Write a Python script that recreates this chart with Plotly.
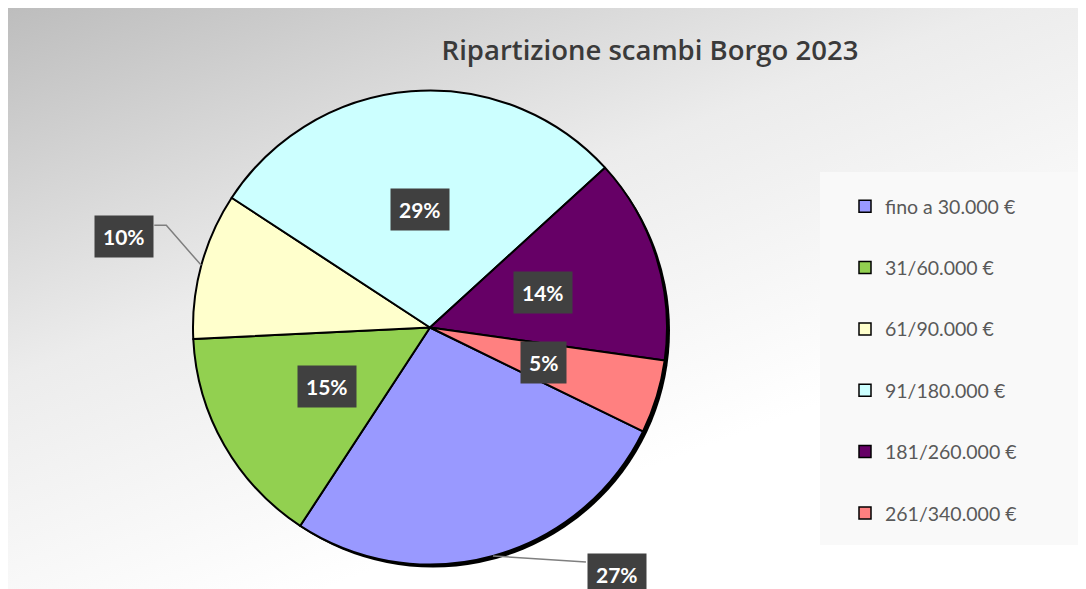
import math, base64
import plotly.graph_objects as go

categories = ["fino a 30.000 €", "31/60.000 €", "61/90.000 €", "91/180.000 €", "181/260.000 €", "261/340.000 €"]
values = [27, 15, 10, 29, 14, 5]
colors = ["#9999FF", "#92D050", "#FFFFCC", "#CCFFFF", "#660066", "#FF8080"]
title_text = "Ripartizione scambi Borgo 2023"

W, H = 1086, 589
OFF = 8  # page body margin; layout coordinates below are given in screen pixels
CX, CY, R = 430, 327.5, 237
ROT = 116  # degrees clockwise from 12 o'clock where the first slice starts
FONT = "Lato, Open Sans, sans-serif"

def px(x):
    return (x - OFF) / W

def py(y):
    return 1 - (y - OFF) / H

fig = go.Figure()

# gradient background image
svg = f'''<svg xmlns="http://www.w3.org/2000/svg" width="{W}" height="{H}">
<defs><linearGradient id="g" x1="0" y1="0" x2="0.65" y2="0.95">
<stop offset="0" stop-color="#bdbdbd"/><stop offset="0.45" stop-color="#ececec"/><stop offset="0.85" stop-color="#ffffff"/>
</linearGradient></defs><rect width="{W}" height="{H}" fill="url(#g)"/></svg>'''
src = "data:image/svg+xml;base64," + base64.b64encode(svg.encode()).decode()
fig.add_layout_image(source=src, xref="paper", yref="paper", x=0, y=1,
                     sizex=1, sizey=1, xanchor="left", yanchor="top",
                     sizing="stretch", layer="below")

# soft shadow behind the pie
fig.add_shape(type="circle", xref="paper", yref="paper",
              x0=px(CX - R + 3), x1=px(CX + R + 3), y0=py(CY + R + 3), y1=py(CY - R + 3),
              fillcolor="#000000", line=dict(width=0), layer="below")

fig.add_trace(go.Pie(
    labels=categories, values=values, sort=False, direction="clockwise", rotation=ROT,
    marker=dict(colors=colors, line=dict(color="#000000", width=2)),
    textinfo="none", hoverinfo="label+percent", showlegend=False,
    domain=dict(x=[px(CX - R), px(CX + R)], y=[py(CY + R), py(CY - R)]),
))

# legend via dummy traces so each entry gets its own vertical spacing
for i, (c, col) in enumerate(zip(categories, colors)):
    fig.add_trace(go.Scatter(x=[None], y=[None], mode="markers", name=c, legendgroup=f"g{i}",
                             marker=dict(symbol="square", size=12, color=col,
                                         line=dict(color="#000000", width=1.5))))

# data labels
total = sum(values)
cum = 0
outside_offsets = {2: (-77, -29), 0: (124, 19)}
for i, v in enumerate(values):
    mid = ROT + 360 * (cum + v / 2) / total
    cum += v
    a = math.radians(mid)
    label = f"{round(100 * v / total)}%"
    if i in outside_offsets:
        ex, ey = CX + R * math.sin(a), CY - R * math.cos(a)
        dx, dy = outside_offsets[i]
        lx, ly = ex + dx, ey + dy
        if dx < 0:
            path = (f"M {px(ex)} {py(ey)} L {px(lx + 42)} {py(ly - 11)} "
                    f"L {px(lx + 30)} {py(ly - 11)}")
        else:
            path = f"M {px(ex)} {py(ey)} L {px(lx - 31)} {py(ly - 13)}"
        fig.add_shape(type="path", xref="paper", yref="paper", path=path,
                      line=dict(color="#7f7f7f", width=1.5))
    else:
        rr = 0.5 * R
        lx, ly = CX + rr * math.sin(a), CY - rr * math.cos(a)
    fig.add_annotation(x=px(lx), y=py(ly), xref="paper", yref="paper", text=f"<b>{label}</b>",
                       xanchor="center", yanchor="middle",
                       showarrow=False, bgcolor="#404040", borderpad=8,
                       font=dict(family=FONT, size=21, color="#ffffff"))

# legend panel
fig.add_shape(type="rect", xref="paper", yref="paper", x0=px(820), x1=px(1080), y0=py(545), y1=py(172),
              fillcolor="#f9f9f9", line=dict(width=0), layer="below")

fig.update_layout(
    width=W, height=H, margin=dict(l=0, r=0, t=0, b=0),
    paper_bgcolor="#ffffff", plot_bgcolor="rgba(0,0,0,0)",
    title=dict(text=title_text, x=px(650), y=py(50), xanchor="center", yanchor="middle",
               font=dict(family="Open Sans, sans-serif", size=27.5, weight=600, color="#3a3a3a")),
    xaxis=dict(visible=False), yaxis=dict(visible=False),
    legend=dict(x=px(845), y=py(187), xanchor="left", yanchor="top", bgcolor="rgba(0,0,0,0)",
                tracegroupgap=33, font=dict(family=FONT, size=19.5, color="#595959")),
)

fig.write_html("out.html")
